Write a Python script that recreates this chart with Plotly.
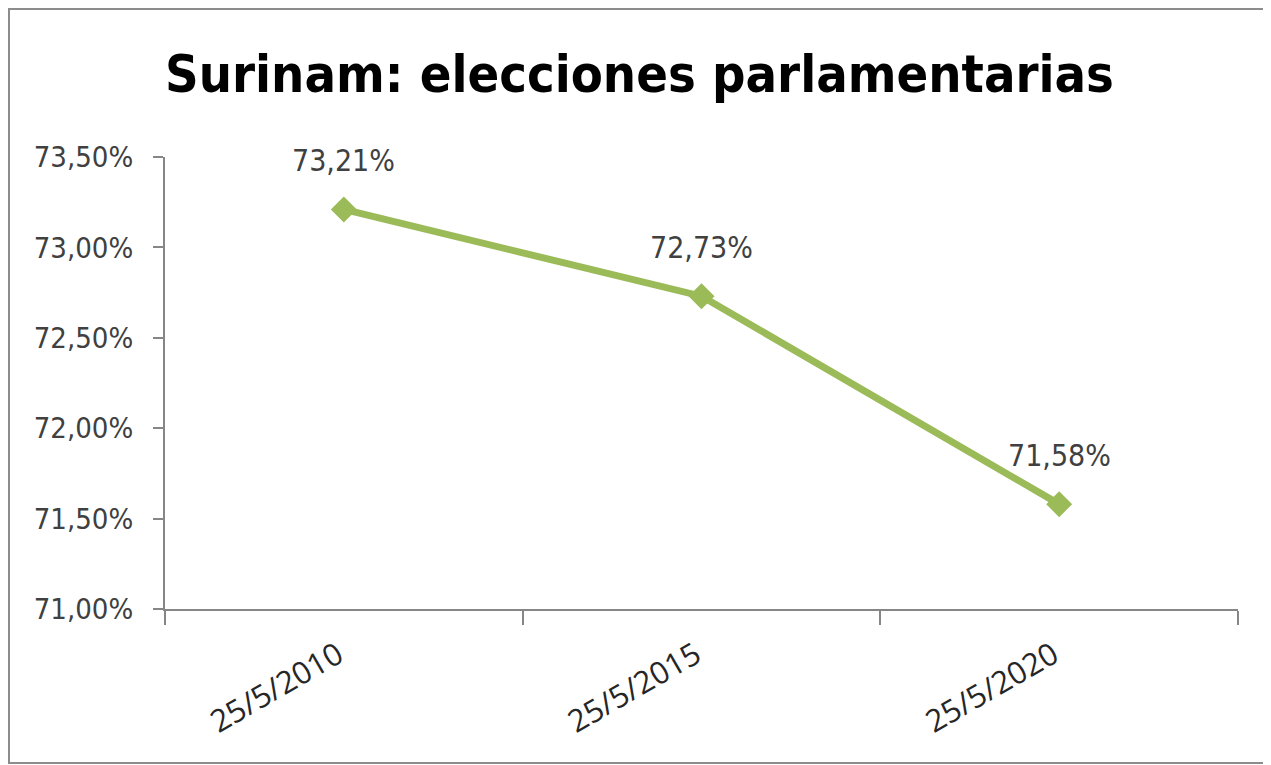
import plotly.graph_objects as go

categories = ["25/5/2010", "25/5/2015", "25/5/2020"]
values = [73.21, 72.73, 71.58]
labels = ["73,21%", "72,73%", "71,58%"]
y_tickvals = [71.0, 71.5, 72.0, 72.5, 73.0, 73.5]
y_ticktext = ["71,00%", "71,50%", "72,00%", "72,50%", "73,00%", "73,50%"]
title = "Surinam: elecciones parlamentarias"

# page has an 8px body margin; figure sized to fit the window
W, H = 1263, 757
ML, MR, MT, MB = 157, 33, 149, 156

fig = go.Figure()
fig.add_trace(go.Scatter(
    x=categories, y=values, mode="lines+markers",
    line=dict(color="#9BBB59", width=7),
    marker=dict(symbol="diamond", size=20, color="#9BBB59"),
    hoverinfo="skip", showlegend=False,
))

for c, v, t in zip(categories, values, labels):
    fig.add_annotation(x=c, y=v, text=t, showarrow=False, yshift=49,
                       font=dict(family="DejaVu Sans Condensed, DejaVu Sans", size=30, color="#404040"))

pw = W - ML - MR
ph = H - MT - MB
fig.add_shape(type="rect", xref="paper", yref="paper",
              x0=(1 - ML) / pw, x1=(1260 - ML) / pw,
              y0=(H - MB - 755) / ph, y1=(H - MB - 1) / ph,
              line=dict(color="#8c8c8c", width=2), fillcolor="rgba(0,0,0,0)", layer="below")

fig.update_layout(
    width=W, height=H,
    margin=dict(l=ML, r=MR, t=MT, b=MB),
    paper_bgcolor="white", plot_bgcolor="white",
    title=dict(text="<b>" + title + "</b>", x=0.5, xanchor="center",
               y=1 - 66 / H, yanchor="middle", yref="container",
               font=dict(family="DejaVu Sans Condensed, DejaVu Sans", size=52, color="#000000")),
    xaxis=dict(type="category", range=[-0.5, 2.5], showgrid=False, zeroline=False,
               showline=True, linecolor="#868686", linewidth=2,
               ticks="outside", tickson="boundaries", ticklen=14, tickcolor="#868686", tickwidth=2,
               tickangle=-30, ticklabelstandoff=14, ticklabelshift=-6,
               tickfont=dict(family="Open Sans", size=31, color="#262626")),
    yaxis=dict(range=[71.0, 73.5], tickvals=y_tickvals, ticktext=y_ticktext,
               showgrid=False, zeroline=False,
               showline=True, linecolor="#868686", linewidth=2,
               ticks="outside", ticklen=10, tickcolor="#868686", tickwidth=2,
               ticklabelstandoff=14,
               tickfont=dict(family="DejaVu Sans Condensed, DejaVu Sans", size=29, color="#404040")),
)

fig.write_html("out.html")
